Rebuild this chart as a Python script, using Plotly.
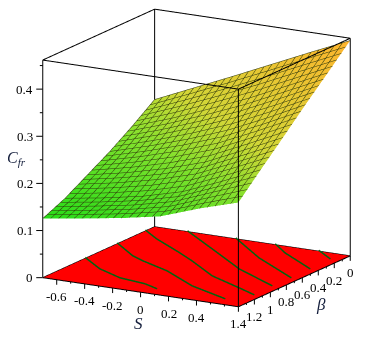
import plotly.graph_objects as go

# surface grid
s_grid = [-0.7, -0.42, -0.14, 0.14, 0.42, 0.7]
beta_grid = [1.4, 1.12, 0.84, 0.56, 0.28, 0.0]
cf_rows = [
    [0.1255, 0.138, 0.151, 0.167, 0.196, 0.221],
    [0.147, 0.160, 0.176, 0.198, 0.232, 0.269],
    [0.175, 0.192, 0.213, 0.239, 0.277, 0.316],
    [0.203, 0.227, 0.254, 0.285, 0.323, 0.364],
    [0.235, 0.264, 0.297, 0.332, 0.371, 0.410],
    [0.270, 0.307, 0.344, 0.382, 0.420, 0.457],
]

# contour lines on the floor, (S, beta)
floor_lines = [
    [(-0.7, 0.869), (-0.487, 1.059), (-0.271, 1.184), (-0.064, 1.231), (0.06, 1.297)],
    [(-0.7, 0.468), (-0.462, 0.689), (-0.349, 0.761), (-0.1, 0.894), (0.213, 1.128), (0.546, 1.295)],
    [(-0.7, 0.115), (-0.535, 0.263), (-0.244, 0.482), (-0.084, 0.61), (0.203, 0.859), (0.491, 1.025), (0.655, 1.123)],
    [(-0.465, 0.0), (-0.405, 0.052), (-0.078, 0.333), (0.266, 0.631), (0.647, 0.882)],
    [(-0.12, 0.0), (0.243, 0.342), (0.654, 0.657)],
    [(0.163, 0.0), (0.325, 0.159), (0.65, 0.413)],
    [(0.474, 0.0), (0.64, 0.144)],
]

s_ticks = [-0.6, -0.5, -0.4, -0.3, -0.2, -0.1, 0, 0.1, 0.2, 0.3, 0.4, 0.5, 0.6]
s_labels = ["-0.6", "", "-0.4", "", "-0.2", "", "0", "", "0.2", "", "0.4", "", ""]
beta_ticks = [0, 0.1, 0.2, 0.3, 0.4, 0.5, 0.6, 0.7, 0.8, 0.9, 1.0, 1.1, 1.2, 1.3, 1.4]
beta_labels = ["0", "", "0.2", "", "0.4", "", "0.6", "", "0.8", "", "1", "", "1.2", "", "1.4"]
z_ticks = [0, 0.05, 0.1, 0.15, 0.2, 0.25, 0.3, 0.35, 0.4, 0.45]
z_labels = ["0", "", "0.1", "", "0.2", "", "0.3", "", "0.4", ""]

s_rng = [-0.7, 0.7]
b_rng = [1.4, 0]
z_rng = [0, 0.4617]

fig = go.Figure()

mesh = dict(show=True, start=-0.7, end=0.7, size=0.056, color="rgb(45,55,10)", width=2)
mesh_b = dict(show=True, start=0, end=1.4, size=0.056, color="rgb(45,55,10)", width=2)
fig.add_surface(
    x=s_grid, y=beta_grid, z=cf_rows,
    colorscale=[[0, "rgb(40,220,25)"], [0.3, "rgb(130,225,45)"], [0.5, "rgb(210,215,55)"], [1, "rgb(255,180,45)"]],
    showscale=False,
    lighting=dict(ambient=1, diffuse=0, specular=0, fresnel=0),
    contours=dict(x=mesh, y=mesh_b),
)
fig.add_surface(
    x=s_rng, y=b_rng, z=[[0, 0], [0, 0]],
    colorscale=[[0, "rgb(255,0,0)"], [1, "rgb(255,0,0)"]],
    showscale=False,
    lighting=dict(ambient=1, diffuse=0, specular=0, fresnel=0),
)
for line in floor_lines:
    fig.add_scatter3d(
        x=[p[0] for p in line], y=[p[1] for p in line], z=[0.002 for p in line],
        mode="lines", line=dict(color="rgb(0,100,15)", width=3), showlegend=False,
    )

# box frame
sa, sb = s_rng
ba, bb = b_rng
za, zb = z_rng
edges = [
    ([sa, sb], [ba, ba], [zb, zb]),
    ([sb, sb], [ba, bb], [zb, zb]),
    ([sa, sb], [bb, bb], [zb, zb]),
    ([sa, sa], [ba, bb], [zb, zb]),
    ([sa, sa], [ba, ba], [za, zb]),
    ([sb, sb], [ba, ba], [za, zb]),
    ([sb, sb], [bb, bb], [za, zb]),
    ([sa, sa], [bb, bb], [za, zb]),
    ([sa, sb], [ba, ba], [za, za]),
    ([sb, sb], [ba, bb], [za, za]),
    ([sa, sb], [bb, bb], [za, za]),
    ([sa, sa], [ba, bb], [za, za]),
]
for ex, ey, ez in edges:
    fig.add_scatter3d(x=ex, y=ey, z=ez, mode="lines", line=dict(color="black", width=2), showlegend=False)


def axis(rng):
    return dict(
        range=rng, title=dict(text=""), showgrid=False, showbackground=False, zeroline=False,
        showline=False, ticks="", showticklabels=False, showspikes=False,
    )


tick_font = dict(family="Liberation Serif", size=13, color="black")
scene_notes = []


def add_ticks(xs, ys, zs, labels, ax, ay, lab_x, lab_y, anchor):
    for x, y, z, lab in zip(xs, ys, zs, labels):
        scale = 1 if lab else 0.55
        scene_notes.append(dict(
            x=x, y=y, z=z, text=" ", font=dict(size=1), showarrow=True, arrowhead=0,
            arrowwidth=1, arrowcolor="black", ax=ax * scale, ay=ay * scale,
        ))
        if lab:
            scene_notes.append(dict(
                x=x, y=y, z=z, text=lab, font=tick_font, showarrow=False,
                xshift=lab_x, yshift=lab_y, xanchor=anchor, yanchor="middle",
            ))


add_ticks(s_ticks, [ba] * len(s_ticks), [za] * len(s_ticks), s_labels, 0, 7, 0, -17, "center")
add_ticks([sb] * len(beta_ticks), beta_ticks, [za] * len(beta_ticks), beta_labels, 0, 7, 0, -17, "center")
add_ticks([sa] * len(z_ticks), [ba] * len(z_ticks), z_ticks, z_labels, -8, 0, -8, 0, "right")

d = 1.518
box = 1.318
cx, cy, cz = 0.0178, 0.0102, -0.1274
fig.update_layout(
    width=384, height=342,
    margin=dict(l=0, r=0, t=0, b=0),
    paper_bgcolor="white",
    showlegend=False,
    scene=dict(
        domain=dict(x=[0, 1], y=[0, 1]),
        xaxis=axis(s_rng),
        yaxis=axis(b_rng),
        zaxis=axis(z_rng),
        aspectmode="manual",
        aspectratio=dict(x=box, y=box, z=box),
        camera=dict(
            projection=dict(type="orthographic"),
            eye=dict(x=0.479 * d + cx, y=-0.838 * d + cy, z=0.260 * d + cz),
            up=dict(x=0, y=0, z=1),
            center=dict(x=cx, y=cy, z=cz),
        ),
        annotations=scene_notes,
    ),
    annotations=[
        dict(text="<i>S</i>", x=130 / 384, y=1 - 315 / 342, xref="paper", yref="paper", showarrow=False,
             xanchor="center", yanchor="middle",
             font=dict(family="Liberation Serif", size=17, color="rgb(20,30,60)")),
        dict(text="<i>β</i>", x=313 / 384, y=1 - 296 / 342, xref="paper", yref="paper", showarrow=False,
             xanchor="center", yanchor="middle",
             font=dict(family="Liberation Serif", size=17, color="rgb(20,30,60)")),
        dict(text="<i>C</i><sub><i>fr</i></sub>", x=8 / 384, y=1 - 150 / 342, xref="paper", yref="paper", showarrow=False,
             xanchor="center", yanchor="middle",
             font=dict(family="Liberation Serif", size=16, color="rgb(20,30,60)")),
    ],
)

fig.write_html("out.html")
